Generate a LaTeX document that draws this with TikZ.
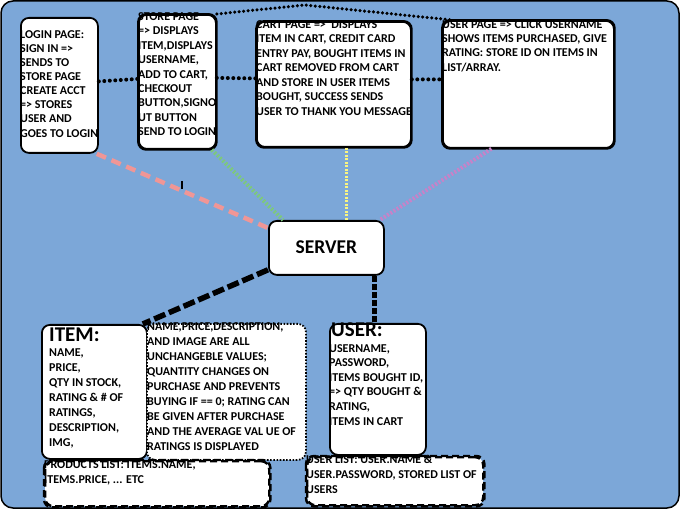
\documentclass[tikz,border=0pt]{standalone}
\usepackage{fontspec}
\setmainfont{Carlito}
\usepackage{tikz}
\usetikzlibrary{positioning}

\definecolor{bgblue}{RGB}{124,167,216}
\definecolor{pinkline}{RGB}{240,150,150}
\definecolor{greenline}{RGB}{125,200,125}
\definecolor{yellowline}{RGB}{250,245,130}
\definecolor{purpleline}{RGB}{200,130,200}

\begin{document}
\begin{tikzpicture}[
                x = 1pt, y = -1pt, % pixel units, y going down
                box/.style = {draw = black, line width = 1.8pt, fill = white,
                    rounded corners = 8pt, inner sep = 0pt, anchor = north west},
                rim/.style = {line width = 1.8pt, rounded corners = 8pt},
                txt/.style = {anchor = north west, align = left, inner sep = 0pt,
                    font = \bfseries\fontsize{12}{14.4}\selectfont},
                dotline/.style = {line width = 4pt, dash pattern = on 0pt off 5.5pt, line cap = round}
        ]

        \useasboundingbox (0,0) rectangle (680,510);
        \draw[fill = bgblue, line width = 1.5pt, rounded corners = 12pt] (1,1) rectangle (679,508);

        % page boxes along the top
        \node[box, minimum width = 77pt, minimum height = 135pt] (login) at (20,17) {};
        \node[box, minimum width = 77pt, minimum height = 134pt] (store) at (138,14) {};
        \node[box, minimum width = 154pt, minimum height = 125pt] (cart) at (256,21) {};
        \node[box, minimum width = 171pt, minimum height = 127pt] (userpg) at (442,20) {};

        \node[txt, font = \bfseries\fontsize{12}{14.15}\selectfont] (logintxt) at (20,30) {LOGIN PAGE:\\SIGN IN =>\\SENDS TO\\STORE PAGE\\CREATE ACCT\\=> STORES\\USER AND\\GOES TO LOGIN};
        \node[txt] (storetxt) at (138,12.5) { STORE PAGE\\=> DISPLAYS\\ITEM,DISPLAYS\\USERNAME,\\ADD TO CART,\\CHECKOUT\\BUTTON,SIGNO\\UT BUTTON\\SEND TO LOGIN};
        \node[txt, font = \bfseries\fontsize{12}{14.5}\selectfont] (carttxt) at (256,20) { CART PAGE =>\ \ DISPLAYS\\ITEM IN CART, CREDIT CARD\\ENTRY PAY, BOUGHT ITEMS IN\\CART REMOVED FROM CART\\AND STORE IN USER ITEMS\\BOUGHT, SUCCESS SENDS\\USER TO THANK YOU MESSAGE};
        \node[txt] (userpgtxt) at (442,20) { USER PAGE => CLICK USERNAME\\SHOWS ITEMS PURCHASED, GIVE\\RATING: STORE ID ON ITEMS IN\\LIST/ARRAY.};

        % borders over the text tops
        \draw[rim] (store.north west) rectangle (store.south east);
        \draw[rim] (cart.north west) rectangle (cart.south east);
        \draw[rim] (userpg.north west) rectangle (userpg.south east);

        % server in the middle
        \node[box, minimum width = 115pt, minimum height = 54pt] (server) at (268,220) {};
        \node[font = \bfseries\fontsize{19.5}{19.5}\selectfont] (servertxt) at ([yshift=1pt]server.center) {SERVER};

        % data boxes along the bottom
        \node[box, minimum width = 105pt, minimum height = 134pt] (item) at (41,324) {};
        \node[box, dash pattern = on 1.6pt off 1.6pt, minimum width = 159pt, minimum height = 136pt] (notes) at (146,323) {};
        \node[box, minimum width = 96pt, minimum height = 131pt] (user) at (329,323) {};
        \node[box, line width = 2.4pt, dash pattern = on 7pt off 4pt, minimum width = 224pt, minimum height = 45pt] (prodlist) at (44,460) {};
        \node[box, line width = 2.4pt, dash pattern = on 7pt off 4pt, minimum width = 176pt, minimum height = 48pt] (userlist) at (306,456) {};

        \node[txt, font = \bfseries\fontsize{21}{21}\selectfont] (itemhead) at (49,328) {ITEM:};
        \node[txt, font = \bfseries\fontsize{12}{15}\selectfont] (itemtxt) at (49,349) {NAME,\\PRICE,\\QTY IN STOCK,\\RATING \& \# OF\\RATINGS,\\DESCRIPTION,\\IMG,};
        \node[txt, font = \bfseries\fontsize{12}{15}\selectfont] (notestxt) at (147,322) { NAME,PRICE,DESCRIPTION,\\AND IMAGE ARE ALL\\UNCHANGEBLE VALUES;\\QUANTITY CHANGES ON\\PURCHASE AND PREVENTS\\BUYING IF == 0; RATING CAN\\BE GIVEN AFTER PURCHASE\\AND THE AVERAGE VAL UE OF\\RATINGS IS DISPLAYED};
        \node[txt, font = \bfseries\fontsize{21}{21}\selectfont] (userhead) at (331,323) {USER:};
        \node[txt, font = \bfseries\fontsize{12}{14.6}\selectfont] (usertxt) at (329,344) {USERNAME,\\PASSWORD,\\ITEMS BOUGHT ID,\\=> QTY BOUGHT \&\\RATING,\\ITEMS IN CART};
        \node[txt, font = \bfseries\fontsize{12}{15}\selectfont] (prodlisttxt) at (44,460) { PRODUCTS LIST: ITEMS.NAME,\\ITEMS.PRICE, ... ETC};
        \node[txt, font = \bfseries\fontsize{12}{15}\selectfont] (userlisttxt) at (306,455) { USER LIST: USER.NAME \&\\USER.PASSWORD, STORED LIST OF\\USERS};

        \draw[rim, line width = 2.4pt, dash pattern = on 7pt off 4pt] (prodlist.north west) rectangle (prodlist.south east);
        \draw[rim, line width = 2.4pt, dash pattern = on 7pt off 4pt] (userlist.north west) rectangle (userlist.south east);

        \coordinate (topbend) at (305,5);

        % links between the pages
        \draw[dotline] ([yshift=4pt]login.east) -- ([yshift=3pt]store.west);
        \draw[dotline] ([yshift=4pt]store.east) -- ([yshift=6pt]cart.west);
        \draw[dotline] ([yshift=5pt]cart.east) -- ([yshift=5pt]userpg.west);
        \draw[dotline, line width = 3.5pt, dash pattern = on 0pt off 4.5pt] (store.north east) -- (topbend) -- ([xshift=10pt]userpg.north west);

        % links to the server
        \draw[pinkline, line width = 4.5pt, dash pattern = on 10pt off 6pt] ([xshift=-2pt]login.south east) -- ([yshift=-8pt]server.north west);
        \draw[greenline, line width = 4pt, dash pattern = on 2pt off 1.8pt] ([xshift=-5pt]store.south east) -- ([xshift=15pt]server.north west);
        \draw[yellowline, line width = 3pt, dash pattern = on 2pt off 1.5pt] ([xshift=13pt]cart.south) -- ([xshift=13pt]cart.south |- server.north);
        \draw[purpleline, line width = 4pt, dash pattern = on 2pt off 1.8pt] ([xshift=-37pt]userpg.south) -- ([xshift=-5pt]server.north east);
        \draw[line width = 5.5pt, dash pattern = on 12pt off 4pt] ([yshift=6pt]server.south west) -- ([xshift=-5pt]item.north east);
        \draw[line width = 5pt, dash pattern = on 6pt off 2pt] ([xshift=-10pt]server.south east) -- ([xshift=-10pt]server.south east |- user.north);

        \draw[line width = 2pt] (182,181) -- (182,189);

        \end{tikzpicture}
\end{document}
